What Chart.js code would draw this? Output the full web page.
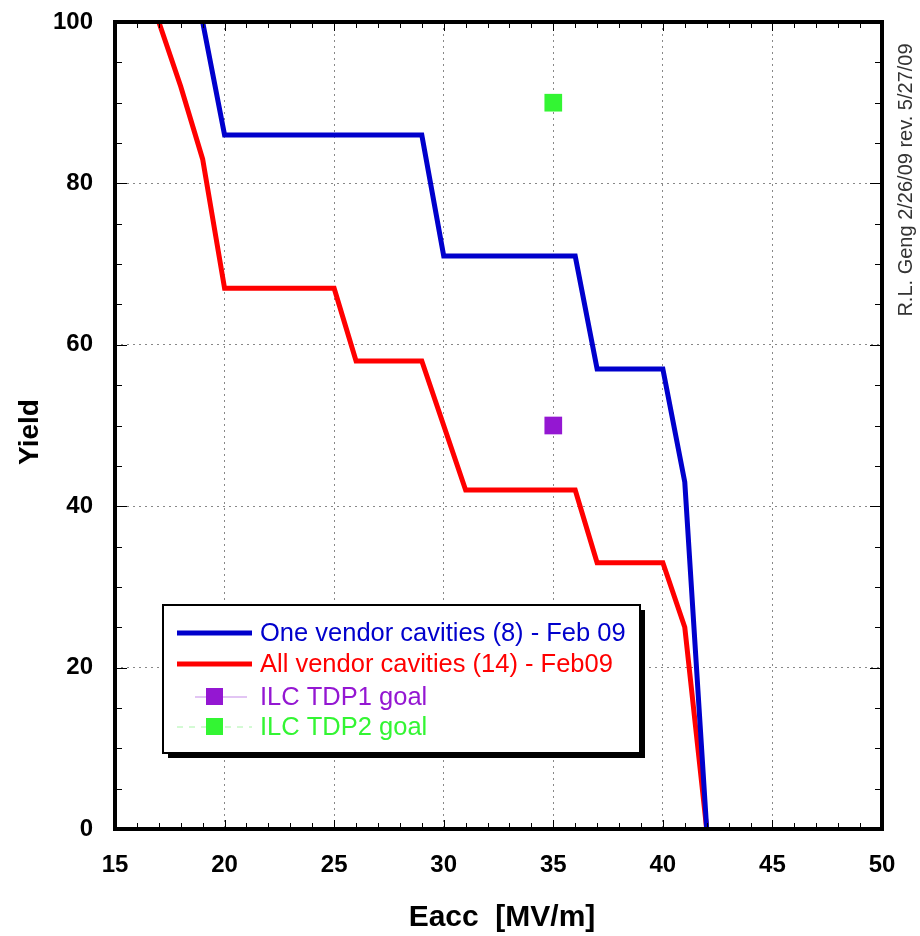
<!DOCTYPE html>
<html>
<head>
<meta charset="utf-8">
<script src="https://cdn.jsdelivr.net/npm/chart.js@4.4.1/dist/chart.umd.min.js"></script>
<style>
  html, body { margin: 0; padding: 0; background: #fff; }
  #wrap { width: 920px; height: 936px; position: relative; }
</style>
</head>
<body>
<div id="wrap"><canvas id="myChart"></canvas></div>
<script>
// Data
const oneVendorX = [19, 20, 29, 30, 36, 37, 40, 41, 42];
const oneVendorY = [100, 86, 86, 71, 71, 57, 57, 43, 0];
const allVendorX = [17, 18, 19, 20, 25, 26, 29, 31, 36, 37, 40, 41, 42];
const allVendorY = [100, 92, 83, 67, 67, 58, 58, 42, 42, 33, 33, 25, 0];
const tdp1 = { x: 35, y: 50 };
const tdp2 = { x: 35, y: 90 };
const legendLabels = ['One vendor cavities (8) - Feb 09', 'All vendor cavities (14) - Feb09', 'ILC TDP1 goal', 'ILC TDP2 goal'];
const xTitle = 'Eacc  [MV/m]';
const yTitle = 'Yield';
const sideNote = 'R.L. Geng 2/26/09 rev. 5/27/09';

const BLUE = '#0000CC';
const RED = '#FF0000';
const PURPLE = '#9417D2';
const GREEN = '#33F533';

const toPoints = (xs, ys) => xs.map((x, i) => ({ x: x, y: ys[i] }));

// Frame, inward ticks, titles, legend box and side note
const decorPlugin = {
    id: 'decor',
    afterDraw(chart) {
        const ctx = chart.ctx;
        const a = chart.chartArea;
        const xs = chart.scales.x;
        const ys = chart.scales.y;
        ctx.save();

        // inward ticks on all four sides
        ctx.strokeStyle = '#000';
        ctx.lineWidth = 1;
        for (let v = 15; v <= 50; v++) {
            const px = Math.round(xs.getPixelForValue(v)) + 0.5;
            const len = v % 5 === 0 ? 9 : 6;
            ctx.beginPath();
            ctx.moveTo(px, a.bottom); ctx.lineTo(px, a.bottom - len);
            ctx.moveTo(px, a.top); ctx.lineTo(px, a.top + len);
            ctx.stroke();
        }
        for (let v = 0; v <= 100; v += 5) {
            const py = Math.round(ys.getPixelForValue(v)) + 0.5;
            const len = v % 20 === 0 ? 12 : 7;
            ctx.beginPath();
            ctx.moveTo(a.left, py); ctx.lineTo(a.left + len, py);
            ctx.moveTo(a.right, py); ctx.lineTo(a.right - len, py);
            ctx.stroke();
        }

        // thick frame
        ctx.lineWidth = 4;
        ctx.strokeRect(a.left, a.top, a.right - a.left, a.bottom - a.top);

        // axis titles
        ctx.fillStyle = '#000';
        ctx.font = 'bold 30px "Liberation Sans", Arial, sans-serif';
        ctx.textAlign = 'center';
        ctx.textBaseline = 'middle';
        ctx.fillText(xTitle, 502, 918);
        ctx.save();
        ctx.translate(30, 432);
        ctx.rotate(-Math.PI / 2);
        ctx.font = 'bold 28px "Liberation Sans", Arial, sans-serif';
        ctx.fillText(yTitle, 0, 0);
        ctx.restore();

        // side note
        ctx.save();
        ctx.translate(906, 180);
        ctx.rotate(-Math.PI / 2);
        ctx.font = '20px "Liberation Sans", Arial, sans-serif';
        ctx.fillStyle = '#333';
        ctx.fillText(sideNote, 0, 0);
        ctx.restore();

        // legend box with shadow
        const bx = 163, by = 605, bw = 477, bh = 148;
        ctx.fillStyle = '#000';
        ctx.fillRect(bx + 5, by + 5, bw, bh);
        ctx.fillStyle = '#fff';
        ctx.fillRect(bx, by, bw, bh);
        ctx.lineWidth = 2;
        ctx.strokeStyle = '#000';
        ctx.strokeRect(bx, by, bw, bh);

        const rows = [633, 664, 697, 727];
        const colors = [BLUE, RED, PURPLE, GREEN];
        // line samples
        ctx.lineWidth = 5;
        ctx.strokeStyle = BLUE;
        ctx.beginPath(); ctx.moveTo(177, rows[0]); ctx.lineTo(252, rows[0]); ctx.stroke();
        ctx.strokeStyle = RED;
        ctx.beginPath(); ctx.moveTo(177, rows[1]); ctx.lineTo(252, rows[1]); ctx.stroke();
        ctx.lineWidth = 1;
        ctx.strokeStyle = '#C58BE8';
        ctx.beginPath(); ctx.moveTo(195, rows[2]); ctx.lineTo(247, rows[2]); ctx.stroke();
        ctx.strokeStyle = '#A8F5A8';
        ctx.setLineDash([6, 6]);
        ctx.beginPath(); ctx.moveTo(177, rows[3]); ctx.lineTo(252, rows[3]); ctx.stroke();
        ctx.setLineDash([]);
        ctx.fillStyle = PURPLE;
        ctx.fillRect(206, rows[2] - 9, 17, 17);
        ctx.fillStyle = GREEN;
        ctx.fillRect(206, rows[3] - 9, 17, 17);

        ctx.font = '25.5px "Liberation Sans", Arial, sans-serif';
        ctx.textAlign = 'left';
        ctx.textBaseline = 'middle';
        legendLabels.forEach((t, i) => {
            ctx.fillStyle = colors[i];
            ctx.fillText(t, 260, rows[i] + 1);
        });

        ctx.restore();
    }
};

const ctx1 = document.getElementById('myChart').getContext('2d');
const myChart = new Chart(ctx1, {
    type: 'line',
    data: {
        datasets: [{
            label: legendLabels[0],
            data: toPoints(oneVendorX, oneVendorY),
            borderColor: BLUE,
            borderWidth: 5,
            pointRadius: 0,
            tension: 0,
            fill: false
        }, {
            label: legendLabels[1],
            data: toPoints(allVendorX, allVendorY),
            borderColor: RED,
            borderWidth: 5,
            pointRadius: 0,
            tension: 0,
            fill: false
        }, {
            label: legendLabels[2],
            data: [tdp1],
            showLine: false,
            pointStyle: 'rect',
            pointRadius: 12.5,
            backgroundColor: PURPLE,
            borderColor: PURPLE,
            borderWidth: 0
        }, {
            label: legendLabels[3],
            data: [tdp2],
            showLine: false,
            pointStyle: 'rect',
            pointRadius: 12.5,
            backgroundColor: GREEN,
            borderColor: GREEN,
            borderWidth: 0
        }]
    },
    options: {
        responsive: true,
        maintainAspectRatio: false,
        animation: false,
        layout: { padding: { top: 22, right: 38, left: 0, bottom: 0 } },
        scales: {
            x: {
                type: 'linear',
                min: 15,
                max: 50,
                ticks: {
                    stepSize: 5,
                    padding: 22,
                    color: '#000',
                    font: { family: '"Liberation Sans", Arial, sans-serif', size: 24, weight: 'bold' }
                },
                grid: { color: '#888', lineWidth: 1, drawTicks: false },
                border: { display: false, dash: [2, 4] },
                afterFit: s => { s.height = 107; s.paddingLeft = 0; s.paddingRight = 0; }
            },
            y: {
                min: 0,
                max: 100,
                ticks: {
                    stepSize: 20,
                    padding: 22,
                    color: '#000',
                    font: { family: '"Liberation Sans", Arial, sans-serif', size: 24, weight: 'bold' }
                },
                grid: { color: '#888', lineWidth: 1, drawTicks: false },
                border: { display: false, dash: [2, 4] },
                afterFit: s => { s.width = 115; s.paddingTop = 0; s.paddingBottom = 0; }
            }
        },
        plugins: {
            legend: { display: false },
            tooltip: { enabled: false }
        }
    },
    plugins: [decorPlugin]
});
</script>
</body>
</html>
